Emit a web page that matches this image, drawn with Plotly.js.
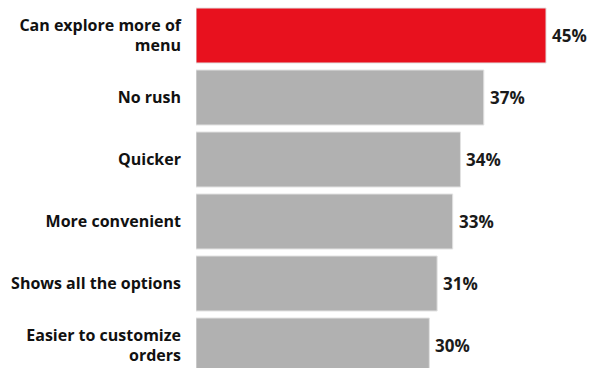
<!DOCTYPE html>
<html>
<head>
<meta charset="utf-8">
<script src="https://cdn.plot.ly/plotly-3.0.1.min.js"></script>
<style>html,body{margin:0;padding:0;background:#fff;}#chart{width:592px;height:368px;}</style>
</head>
<body>
<div id="chart"></div>
<script>
const categories = ["Can explore more of<br>menu", "No rush", "Quicker", "More convenient", "Shows all the options", "Easier to customize<br>orders"];
const values = [45, 37, 34, 33, 31, 30];
const barColors = ["#e8111e", "#b1b1b1", "#b1b1b1", "#b1b1b1", "#b1b1b1", "#b1b1b1"];
const valueLabels = values.map(v => v + "%");

const font = "'Open Sans', sans-serif";

const trace = {
  type: "bar",
  orientation: "h",
  y: categories,
  x: values,
  width: 0.887,
  marker: {color: barColors, line: {color: "#e2e2e2", width: 1}},
  hoverinfo: "none"
};

const annotations = values.map((v, i) => ({
  x: v, y: categories[i], xref: "x", yref: "y",
  text: valueLabels[i], showarrow: false,
  xanchor: "left", yanchor: "middle", xshift: 4,
  font: {family: font, size: 17, color: "#1a1a1a", weight: 700}
}));

const layout = {
  width: 592, height: 368,
  margin: {l: 196, r: 0, t: 0, b: 0, pad: 0},
  paper_bgcolor: "#fff", plot_bgcolor: "#fff",
  showlegend: false,
  xaxis: {range: [0, 50.91], showgrid: false, zeroline: false, showticklabels: false, showline: false, fixedrange: true},
  yaxis: {type: "category", range: [5.3629, -0.5726], showgrid: false, zeroline: false, showline: false, ticks: "",
          ticklabelstandoff: 14,
          tickfont: {family: font, size: 16, color: "#111", weight: 700}, fixedrange: true},
  annotations: annotations
};

Plotly.newPlot("chart", [trace], layout, {staticPlot: true, displayModeBar: false});
</script>
</body>
</html>
